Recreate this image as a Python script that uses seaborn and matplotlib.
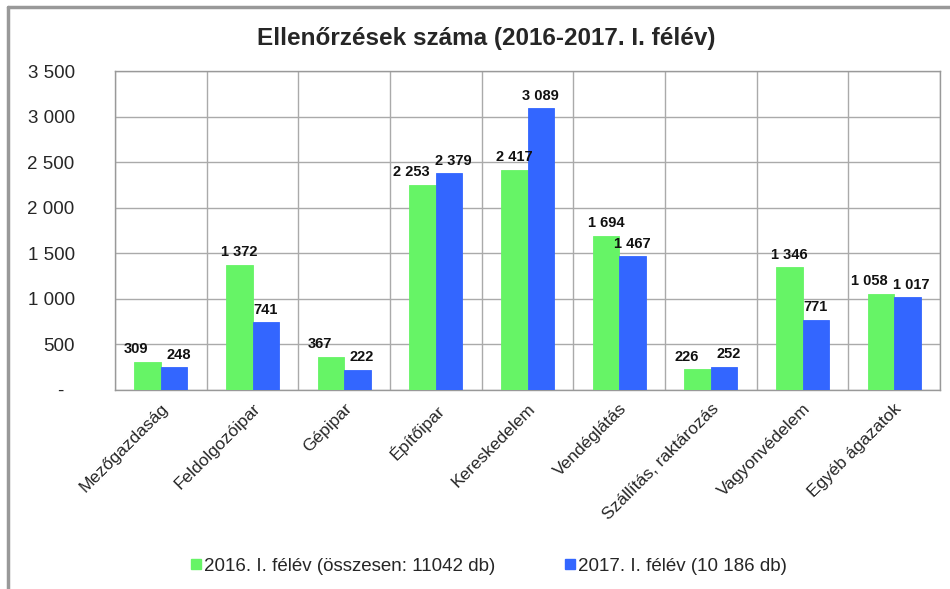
import pandas as pd
import numpy as np
import seaborn as sns
import matplotlib.pyplot as plt
from matplotlib import font_manager
from matplotlib.lines import Line2D

# Data
categories = ['Mezőgazdaság', 'Feldolgozóipar', 'Gépipar', 'Építőipar', 'Kereskedelem',
              'Vendéglátás', 'Szállítás, raktározás', 'Vagyonvédelem', 'Egyéb ágazatok']
values_2016 = [309, 1372, 367, 2253, 2417, 1694, 226, 1346, 1058]
values_2017 = [248, 741, 222, 2379, 3089, 1467, 252, 771, 1017]
series = ['2016. I. félév (összesen: 11042 db)', '2017. I. félév (10 186 db)']
yticks = [0, 500, 1000, 1500, 2000, 2500, 3000, 3500]

df = pd.DataFrame({
    'ag': categories * 2,
    'db': values_2016 + values_2017,
    'ev': [series[0]] * len(categories) + [series[1]] * len(categories),
})

sns.set_style('white')
names = {f.name for f in font_manager.fontManager.ttflist}
narrow = 'Liberation Sans Narrow' if 'Liberation Sans Narrow' in names else 'Liberation Sans'
plt.rcParams['font.family'] = ['Liberation Sans', 'DejaVu Sans']

colors = ['#66F466', '#3366FF']

def fmt(v):
    return f'{v:,}'.replace(',', ' ')

fig = plt.figure(figsize=(9.5, 5.89), dpi=100)
ax = fig.add_axes([115 / 950, 1 - 390 / 589, (940 - 115) / 950, (390 - 71) / 589])

sns.barplot(data=df, x='ag', y='db', hue='ev', palette=colors, width=0.58,
            saturation=1, ax=ax, legend=False, zorder=3)

# value labels, nudged apart where the two labels of a group would collide
green, blue = ax.containers[0], ax.containers[1]
for g, b, v1, v2 in zip(green, blue, values_2016, values_2017):
    close = abs(v1 - v2) < 200
    for bar, v, dx in [(g, v1, -8 if close else 0), (b, v2, 3 if close else 0)]:
        bar.set_edgecolor(bar.get_facecolor())
        bar.set_linewidth(0.6)
        ax.annotate(fmt(v), (bar.get_x() + bar.get_width() / 2, bar.get_height()),
                    xytext=(dx, 4), textcoords='offset points', ha='center', va='bottom',
                    fontsize=10.5, fontweight='bold', family=[narrow, 'DejaVu Sans'],
                    color='#111111')

ax.set_ylim(0, 3500)
ax.set_xlim(-0.5, len(categories) - 0.5)
ax.set_yticks(yticks)
ax.set_yticklabels([fmt(v) if v else '-  ' for v in yticks], fontsize=13.5)
ax.set_xticks(range(len(categories)))
ax.set_xticklabels(categories, rotation=45, ha='right', rotation_mode='anchor', fontsize=12.5)
ax.set_xticks(np.arange(-0.5, len(categories)), minor=True)
ax.tick_params(axis='x', which='major', length=0, pad=8)
ax.tick_params(axis='x', which='minor', length=5, color='#999999', width=1, direction='out')
ax.tick_params(axis='y', length=5, color='#999999', width=1, direction='out', pad=24)
ax.grid(True, axis='y', color='#aaaaaa', linewidth=1, zorder=0)
ax.grid(True, axis='x', which='minor', color='#aaaaaa', linewidth=1, zorder=0)
ax.set_axisbelow(True)
for s in ax.spines.values():
    s.set_color('#999999')
    s.set_linewidth(1)
ax.set_xlabel('')
ax.set_ylabel('')

fig.text(486 / 950, 1 - 38 / 589, 'Ellenőrzések száma (2016-2017. I. félév)', ha='center',
         va='center', fontsize=17.5, fontweight='bold')

handles = [Line2D([], [], marker='s', linestyle='none', markersize=7, color=c) for c in colors]
fig.legend(handles, series, loc='center', bbox_to_anchor=(488 / 950, 1 - 566 / 589), ncol=2,
           frameon=False, fontsize=13.5, handletextpad=0.1, columnspacing=3.6, handlelength=0.7)

# outer frame (top and left edge of the chart box)
fig.add_artist(Line2D([8 / 950, 1], [1 - 7 / 589, 1 - 7 / 589], color='#999999', linewidth=2.5))
fig.add_artist(Line2D([8 / 950, 8 / 950], [0, 1 - 7 / 589], color='#999999', linewidth=2.5))

fig.savefig('out.png', dpi=100)
